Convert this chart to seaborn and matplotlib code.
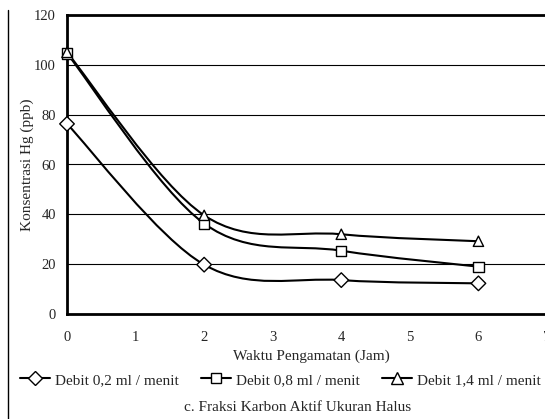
import numpy as np
import pandas as pd
import seaborn as sns
import matplotlib.pyplot as plt
from matplotlib.path import Path
from matplotlib.patches import PathPatch
from matplotlib.lines import Line2D

# values
jam = [0, 2, 4, 6]
debit_02 = [76.3, 19.8, 13.6, 12.3]
debit_08 = [104.6, 36.3, 25.4, 19.0]
debit_14 = [105.0, 39.6, 32.0, 29.2]
series_names = ['Debit 0,2 ml / menit', 'Debit 0,8 ml / menit', 'Debit 1,4 ml / menit']
marker_list = ['D', 's', '^']
yticks = [0, 20, 40, 60, 80, 100, 120]
xticks = [0, 1, 2, 3, 4, 5, 6, 7]

df = pd.DataFrame({
    'jam': jam * 3,
    'hg': debit_02 + debit_08 + debit_14,
    'seri': [n for n in series_names for _ in jam],
})

sns.set_style('white')
plt.rcParams['font.family'] = ['Liberation Serif', 'DejaVu Serif']
plt.rcParams['font.size'] = 11


def smooth_path(x, y):
    # excel-like smoothed line (catmull-rom as bezier segments)
    pts = np.column_stack([x, y]).astype(float)
    n = len(pts)
    verts = [pts[0]]
    codes = [Path.MOVETO]
    for i in range(n - 1):
        p0 = pts[max(i - 1, 0)]
        p1 = pts[i]
        p2 = pts[i + 1]
        p3 = pts[min(i + 2, n - 1)]
        verts += [p1 + (p2 - p0) / 6, p2 - (p3 - p1) / 6, p2]
        codes += [Path.CURVE4] * 3
    return Path(verts, codes)


fig = plt.figure(figsize=(5.45, 4.19), dpi=100)
ax = fig.add_axes([67 / 545, 1 - 314 / 419, 480 / 545, 299 / 419])

for name in series_names:
    sub = df[df['seri'] == name]
    ax.add_patch(PathPatch(smooth_path(sub['jam'], sub['hg']), facecolor='none',
                           edgecolor='black', lw=1.5, zorder=3))

sns.scatterplot(data=df, x='jam', y='hg', style='seri', markers=dict(zip(series_names, marker_list)),
                hue='seri', palette=['white'] * 3, edgecolor='black', linewidth=1.0,
                s=55, legend=False, zorder=4, clip_on=False, ax=ax)

ax.set_xlim(0, 7)
ax.set_ylim(0, 120)
ax.set_xticks(xticks)
ax.set_yticks(yticks)
ax.yaxis.grid(True, color='black', lw=0.8)
ax.set_axisbelow(True)
ax.tick_params(axis='both', direction='out', length=4, width=1, color='black', labelsize=10.5, pad=4)
ax.tick_params(axis='x', pad=8)
for side in ['left', 'bottom', 'top']:
    ax.spines[side].set_color('black')
    ax.spines[side].set_linewidth(2)
ax.spines['right'].set_visible(False)

ax.set_xlabel('Waktu Pengamatan (Jam)', fontsize=11)
ax.xaxis.set_label_coords(0.51, -0.12)
ax.set_ylabel('Konsentrasi Hg (ppb)', fontsize=11)
ax.yaxis.set_label_coords(-0.069, 0.5)

handles = [Line2D([], [], color='black', lw=1.5, marker=m, markersize=ms, markerfacecolor='white',
                  markeredgecolor='black', markeredgewidth=1.0)
           for m, ms in zip(marker_list, [7, 7.5, 8])]
fig.legend(handles, series_names, loc='center left', bbox_to_anchor=(20 / 545, 1 - 380 / 419), ncol=3,
           frameon=False, fontsize=11, handlelength=1.96, handletextpad=0.35, columnspacing=1.44,
           borderpad=0, borderaxespad=0)

fig.text(298 / 545, 1 - 407 / 419, 'c. Fraksi Karbon Aktif Ukuran Halus', ha='center', va='center', fontsize=11)
fig.add_artist(Line2D([8 / 545, 8 / 545], [0, 1 - 10 / 419], transform=fig.transFigure, color='black', lw=1))

fig.savefig('out.png', dpi=100)
